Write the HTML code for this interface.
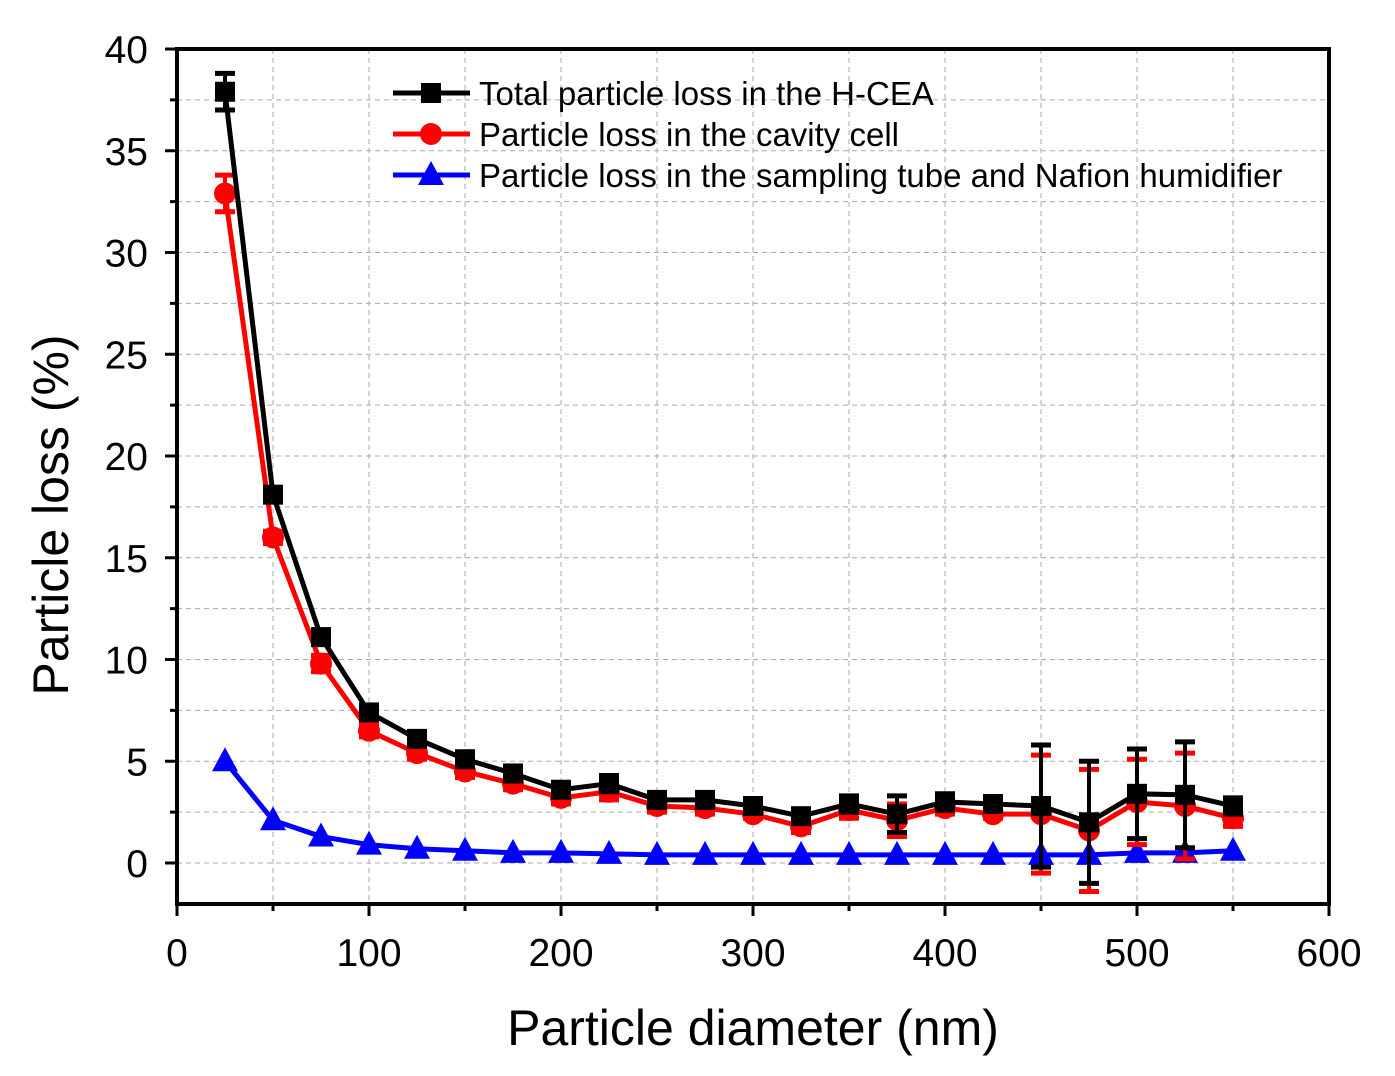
<!DOCTYPE html>
<html><head><meta charset="utf-8"><style>
body{margin:0;background:#fff;}
svg{display:block;font-family:"Liberation Sans",Arial,sans-serif;}
</style></head><body>
<svg id="chart" width="1395" height="1076"></svg>
<script>
const categories=[25,50,75,100,125,150,175,200,225,250,275,300,325,350,375,400,425,450,475,500,525,550];
const totalVals=[37.9,18.1,11.1,7.4,6.1,5.1,4.4,3.6,3.9,3.1,3.1,2.8,2.3,2.9,2.4,3.0,2.9,2.8,2.0,3.4,3.35,2.8];
const totalErr=[0.9,0.3,0.3,0.3,0.3,0.3,0.3,0.3,0.4,0.3,0.3,0.2,0.3,0.4,0.9,0.4,0.2,3.0,3.0,2.2,2.6,0.4];
const cavityVals=[32.9,16.0,9.8,6.5,5.4,4.5,3.9,3.2,3.5,2.8,2.7,2.4,1.8,2.6,2.1,2.7,2.4,2.4,1.6,3.0,2.8,2.2];
const cavityErr=[0.9,0.3,0.4,0.3,0.3,0.3,0.3,0.3,0.4,0.3,0.3,0.2,0.3,0.4,0.8,0.3,0.2,2.9,3.0,2.1,2.6,0.4];
const tubeVals=[5.0,2.1,1.3,0.9,0.7,0.6,0.5,0.5,0.45,0.4,0.4,0.4,0.4,0.4,0.4,0.4,0.4,0.4,0.4,0.5,0.5,0.6];
const xTicks=[0,100,200,300,400,500,600];
const yTicks=[0,5,10,15,20,25,30,35,40];
const legendLabels=["Total particle loss in the H-CEA","Particle loss in the cavity cell","Particle loss in the sampling tube and Nafion humidifier"];

const svg=document.getElementById('chart');const NS='http://www.w3.org/2000/svg';
const L=177,R=1329,T=49,B=904;
const xs=v=>L+(v/600)*(R-L);
const ys=v=>863-v*20.35;
function mk(tag,attrs,parent){const e=document.createElementNS(NS,tag);for(const k in attrs)e.setAttribute(k,attrs[k]);(parent||svg).appendChild(e);return e;}
const grid=mk('g',{});


for(let v=50;v<600;v+=50){mk('line',{x1:xs(v),x2:xs(v),y1:T,y2:B,stroke:'#aaa','stroke-width':1,'stroke-dasharray':'5,4'},grid);}
for(let v=0;v<40;v+=2.5){mk('line',{x1:L,x2:R,y1:ys(v),y2:ys(v),stroke:'#aaa','stroke-width':1,'stroke-dasharray':'5,4'},grid);}
const ax=mk('g',{});


for(let v=0;v<=600;v+=50){const big=v%100===0;mk('line',{x1:xs(v),x2:xs(v),y1:B,y2:B+(big?12:7),stroke:'#000','stroke-width':3},ax);}
for(let v=-2.5;v<=40;v+=2.5){if(ys(v)>B)continue;const big=v%5===0;mk('line',{x1:L,x2:L-(big?12:7),y1:ys(v),y2:ys(v),stroke:'#000','stroke-width':3},ax);}
xTicks.forEach(v=>{const t=mk('text',{x:xs(v),y:966,'font-size':39,'text-anchor':'middle'},ax);t.textContent=v;

});
yTicks.forEach(v=>{const t=mk('text',{x:148,y:ys(v)+14,'font-size':39,'text-anchor':'end'},ax);t.textContent=v;

});
mk('rect',{x:L,y:T,width:R-L,height:B-T,fill:'none',stroke:'#000','stroke-width':4},ax);
const xt=mk('text',{x:753,y:1045,'font-size':50,'text-anchor':'middle'});xt.textContent='Particle  diameter (nm)';


const yt=mk('text',{x:0,y:0,'font-size':50,'text-anchor':'middle',transform:'translate(68,515) rotate(-90)'});yt.textContent='Particle loss (%)';



function marker(g,shape,x,y,col){
 if(shape==='sq')mk('rect',{x:x-10,y:y-10,width:20,height:20,fill:col},g);
 else if(shape==='ci')mk('circle',{cx:x,cy:y,r:11,fill:col},g);
 else mk('polygon',{points:`${x},${y-14} ${x-13},${y+10} ${x+13},${y+10}`,fill:col},g);
}
function series(name,vals,errs,col,shape){
 const g=mk('g',{});
 
 
 if(errs)categories.forEach((c,i)=>{const x=xs(c),y1=ys(vals[i]+errs[i]),y2=ys(vals[i]-errs[i]);
  mk('line',{x1:x,x2:x,y1:y1,y2:y2,stroke:col,'stroke-width':4},g);
  mk('line',{x1:x-10,x2:x+10,y1:y1,y2:y1,stroke:col,'stroke-width':5},g);
  mk('line',{x1:x-10,x2:x+10,y1:y2,y2:y2,stroke:col,'stroke-width':5},g);});
 mk('polyline',{points:categories.map((c,i)=>xs(c)+','+ys(vals[i])).join(' '),fill:'none',stroke:col,'stroke-width':5},g);
 categories.forEach((c,i)=>marker(g,shape,xs(c),ys(vals[i]),col));
}
series('series-tube',tubeVals,null,'#0000ff','tr');
series('series-cavity',cavityVals,cavityErr,'#ff0000','ci');
series('series-total',totalVals,totalErr,'#000','sq');
const cols=['#000','#ff0000','#0000ff'],shapes=['sq','ci','tr'];
legendLabels.forEach((lab,i)=>{const y=93+i*41;const g=mk('g',{});
 
 
 mk('line',{x1:393,x2:470,y1:y,y2:y,stroke:cols[i],'stroke-width':5},g);
 marker(g,shapes[i],431,y,cols[i]);
 const t=mk('text',{x:479,y:y+12,'font-size':33},g);t.textContent=lab;});
</script>
</body></html>
